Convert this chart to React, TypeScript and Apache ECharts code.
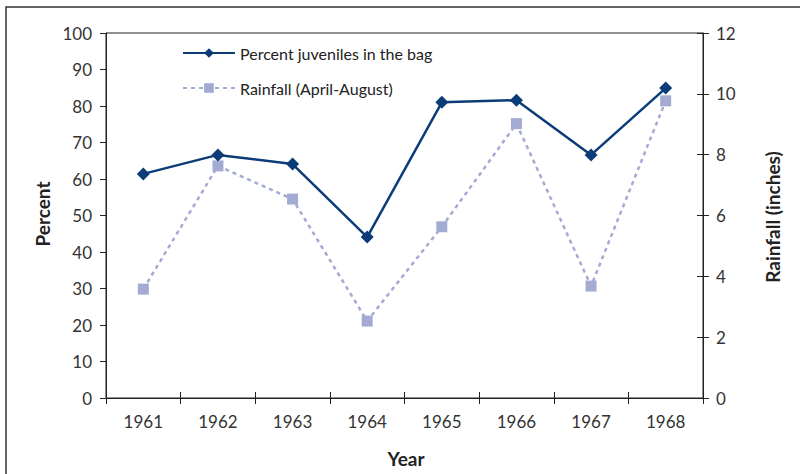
import React, { useEffect, useRef } from "react";
import * as echarts from "echarts";

const years = ["1961", "1962", "1963", "1964", "1965", "1966", "1967", "1968"];
const percentJuveniles = [61.4, 66.6, 64.1, 44.1, 81.0, 81.6, 66.6, 84.9];
const rainfall = [3.58, 7.63, 6.54, 2.53, 5.63, 9.02, 3.68, 9.77];
const percentTicks = { min: 0, max: 100, interval: 10 };
const rainTicks = { min: 0, max: 12, interval: 2 };

const FONT = "Lato, 'Open Sans', sans-serif";
const DARK = "#0b3c78";
const LIGHT = "#a3abd2";

export default function App() {
  const ref = useRef<HTMLDivElement>(null);
  useEffect(() => {
    if (!ref.current) return;
    const chart = echarts.init(ref.current, undefined, { renderer: "svg" });
    const grid = { left: 106, right: 97, top: 33, bottom: 76 };
    const labelStyle = { color: "#333", fontSize: 17, fontFamily: FONT };
    chart.setOption({
      animation: false,
      backgroundColor: "#fff",
      grid: { ...grid, show: true, borderColor: "#222", borderWidth: 1, backgroundColor: "transparent" },
      legend: {
        orient: "vertical",
        left: 177,
        top: 40,
        itemWidth: 52,
        itemHeight: 12,
        itemGap: 19,
        textStyle: { color: "#222", fontSize: 16, fontFamily: FONT },
        data: ["Percent juveniles in the bag", "Rainfall (April-August)"],
      },
      xAxis: [
        {
          type: "category",
          data: years,
          boundaryGap: true,
          position: "bottom",
          axisLine: { lineStyle: { color: "#222", width: 1 } },
          axisTick: { show: true, length: 6, lineStyle: { color: "#222" } },
          axisLabel: { ...labelStyle, margin: 15 },
          splitLine: { show: false },
        },
        {
          type: "category",
          data: years,
          boundaryGap: true,
          position: "bottom",
          axisLine: { show: false },
          axisTick: { show: true, inside: true, length: 6, lineStyle: { color: "#222" } },
          axisLabel: { show: false },
          splitLine: { show: false },
        },
      ],
      yAxis: [
        {
          type: "value",
          ...percentTicks,
          position: "left",
          axisLine: { show: true, lineStyle: { color: "#222" } },
          axisTick: { show: true, length: 6, lineStyle: { color: "#222" } },
          axisLabel: { ...labelStyle, margin: 14 },
          splitLine: { show: false },
        },
        {
          type: "value",
          ...rainTicks,
          position: "right",
          axisLine: { show: true, lineStyle: { color: "#222" } },
          axisTick: { show: true, length: 6, lineStyle: { color: "#222" } },
          axisLabel: { ...labelStyle, margin: 13 },
          splitLine: { show: false },
        },
        {
          type: "value",
          ...rainTicks,
          position: "right",
          axisLine: { show: false },
          axisTick: { show: true, inside: true, length: 6, lineStyle: { color: "#222" } },
          axisLabel: { show: false },
          splitLine: { show: false },
        },
      ],
      series: [
        {
          name: "Rainfall (April-August)",
          type: "line",
          xAxisIndex: 0,
          yAxisIndex: 1,
          data: rainfall,
          symbol: "rect",
          symbolSize: 11,
          itemStyle: { color: LIGHT },
          lineStyle: { color: LIGHT, width: 2.5, type: [4, 4] },
          z: 2,
        },
        {
          name: "Percent juveniles in the bag",
          type: "line",
          xAxisIndex: 0,
          yAxisIndex: 0,
          data: percentJuveniles,
          symbol: "diamond",
          symbolSize: 13,
          itemStyle: { color: DARK },
          lineStyle: { color: DARK, width: 2.5 },
          z: 3,
        },
      ],
      graphic: [
        {
          type: "rect",
          shape: { x: 6, y: 7, width: 1000, height: 1000 },
          style: { fill: "none", stroke: "#333", lineWidth: 1.5 },
          silent: true,
        },
        {
          type: "text",
          x: 42,
          y: 214,
          rotation: Math.PI / 2,
          style: { text: "Percent", font: `bold 19px ${FONT}`, fill: "#222", align: "center", verticalAlign: "middle" },
        },
        {
          type: "text",
          x: 772,
          y: 217,
          rotation: Math.PI / 2,
          style: { text: "Rainfall (inches)", font: `bold 19px ${FONT}`, fill: "#222", align: "center", verticalAlign: "middle" },
        },
        {
          type: "text",
          x: 406,
          y: 458,
          style: { text: "Year", font: `bold 19px ${FONT}`, fill: "#222", align: "center", verticalAlign: "middle" },
        },
      ],
    });
    return () => chart.dispose();
  }, []);
  return <div ref={ref} style={{ width: 800, height: 474, position: "absolute", left: 0, top: 0 }} />;
}
